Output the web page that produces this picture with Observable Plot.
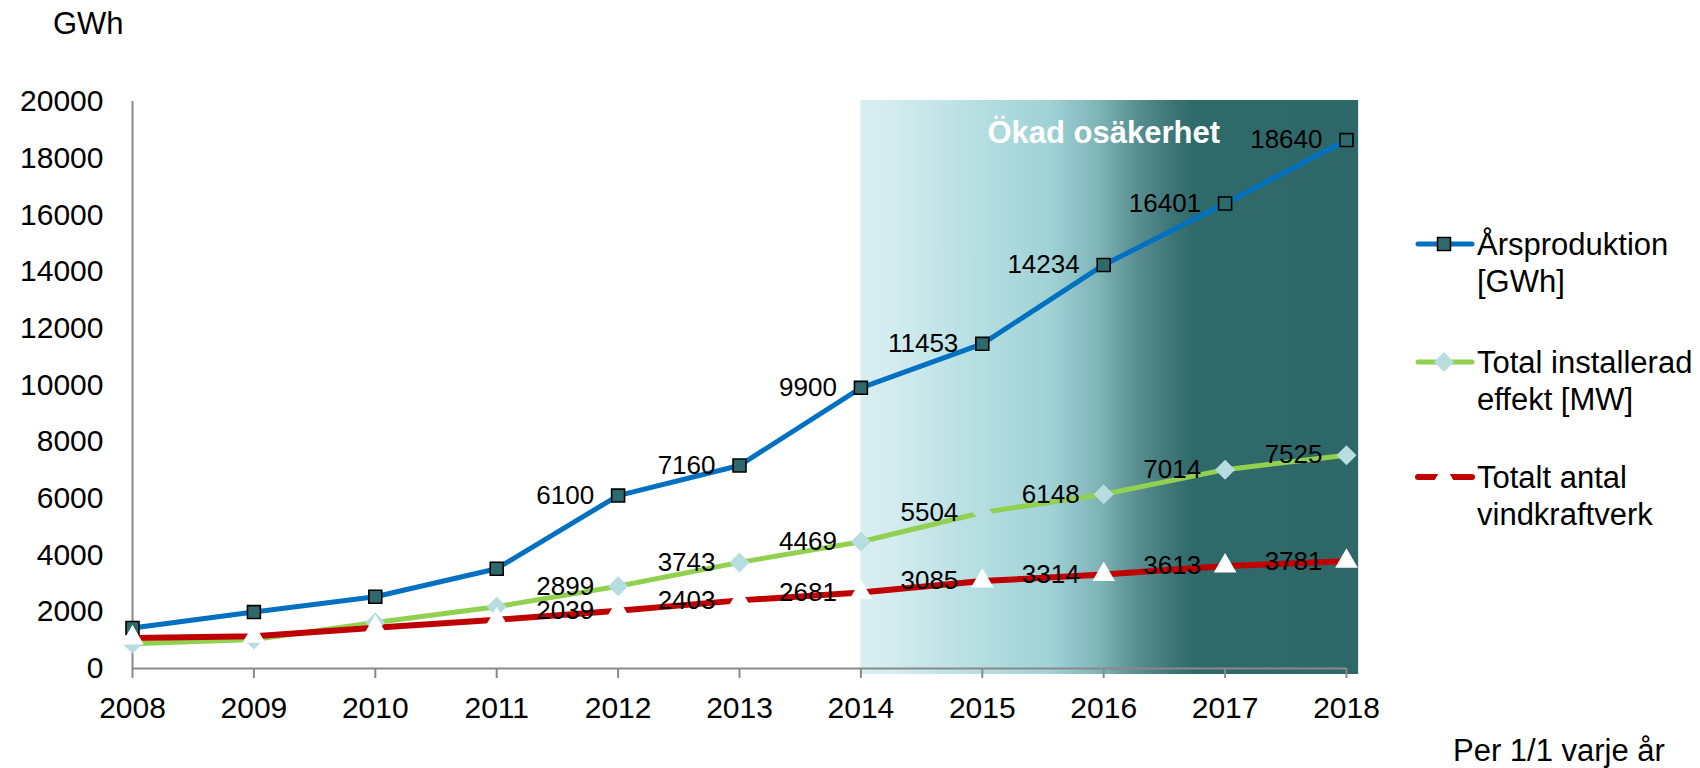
<!DOCTYPE html>
<html><head><meta charset="utf-8">
<script src="https://cdn.jsdelivr.net/npm/d3@7"></script>
<script src="https://cdn.jsdelivr.net/npm/@observablehq/plot@0.6"></script>
<style>
body{margin:0;background:#fff;font-family:"Liberation Sans",Arial,sans-serif;}
#wrap{position:relative;width:1700px;height:768px;overflow:hidden;}
.abs{position:absolute;white-space:nowrap;font-size:31px;line-height:37px;color:#000;}
</style></head><body><div id="wrap"></div>
<script>
const years = [2008, 2009, 2010, 2011, 2012, 2013, 2014, 2015, 2016, 2017, 2018];
const production = [1430, 1990, 2530, 3520, 6100, 7160, 9900, 11453, 14234, 16401, 18640];
const capacity = [870, 1020, 1620, 2180, 2899, 3743, 4469, 5504, 6148, 7014, 7525];
const turbines = [1080, 1140, 1440, 1720, 2039, 2403, 2681, 3085, 3314, 3613, 3781];
const labelFrom = 2012;
const yTicks = [0, 2000, 4000, 6000, 8000, 10000, 12000, 14000, 16000, 18000, 20000];
const shade = {start: 2014, end: 2018.1, text: "Ökad osäkerhet", textX: 2016, textY: 18900};
const legendNames = [["Årsproduktion", "[GWh]"], ["Total installerad", "effekt [MW]"], ["Totalt antal", "vindkraftverk"]];
const yTitle = "GWh";
const xNote = "Per 1/1 varje år";

const series = [
  {key: "prod", values: production, color: "#0070c0", width: 5, symbol: "square", fill: "#2e6a6b", stroke: "#000", r: 7.3},
  {key: "cap", values: capacity, color: "#92d050", width: 5, symbol: "diamond2", fill: "#b7dde1", stroke: "none", r: 9},
  {key: "turb", values: turbines, color: "#c00000", width: 6, symbol: "triangle", fill: "#ffffff", stroke: "none", r: 8.4}
];
const rows = series.flatMap(s => years.map((yr, i) => ({year: yr, value: s.values[i], key: s.key})));

const marks = [
  Plot.rect([shade], {x1: "start", x2: "end", fill: "url(#shade)", insetTop: -1, insetBottom: -6}),
  Plot.ruleY([0], {stroke: "#898989", strokeWidth: 2}),
  Plot.ruleX([years[0]], {stroke: "#898989", strokeWidth: 2}),
  Plot.axisX({ticks: years, tickFormat: "d", tickSize: 10, tickPadding: 18, fontSize: 30, stroke: "#898989", strokeWidth: 2, color: "#000", label: null}),
  Plot.axisY({ticks: yTicks, tickFormat: "d", tickSize: 0, tickPadding: 29, fontSize: 30, color: "#000", label: null})
];
for (const s of series) {
  marks.push(Plot.line(rows.filter(d => d.key === s.key), {x: "year", y: "value", stroke: s.color, strokeWidth: s.width, strokeLinejoin: "round"}));
}
for (const s of series) {
  marks.push(Plot.dot(rows.filter(d => d.key === s.key), {x: "year", y: "value", symbol: () => s.symbol, r: s.r, fill: s.fill, stroke: s.stroke, strokeWidth: 1.6}));
}
marks.push(Plot.text(rows.filter(d => d.year >= labelFrom), {x: "year", y: "value", text: d => String(d.value), textAnchor: "end", dx: -24, fontSize: 26, fill: "#000"}));
marks.push(Plot.text([shade], {x: "textX", y: "textY", text: "text", fontSize: 31, fontWeight: "bold", fill: "#fff"}));

const chart = Plot.plot({
  width: 1700, height: 768,
  marginLeft: 132, marginRight: 354, marginTop: 101, marginBottom: 100,
  x: {domain: [2008, 2018]},
  y: {domain: [0, 20000]},
  symbol: {type: "identity"},
  style: {fontFamily: '"Liberation Sans", Arial, sans-serif', background: "#fff", overflow: "visible"},
  marks
});

const stops = [[0, "#d8eff1"], [0.05, "#d5edf0"], [0.25, "#b3dde0"], [0.38, "#a0d2d6"], [0.48, "#7fb4b7"], [0.55, "#5b9193"], [0.62, "#407778"], [0.67, "#2f6a6b"], [1, "#2e6768"]];
const grad = d3.select(chart).insert("defs", ":first-child").append("linearGradient")
  .attr("id", "shade").attr("x1", 0).attr("x2", 1).attr("y1", 0).attr("y2", 0);
for (const [o, c] of stops) grad.append("stop").attr("offset", o).attr("stop-color", c);

const wrap = document.getElementById("wrap");
wrap.appendChild(chart);

function addText(txt, left, top) {
  const d = document.createElement("div");
  d.className = "abs"; d.textContent = txt;
  d.style.left = left + "px"; d.style.top = top + "px";
  wrap.appendChild(d);
}
addText(yTitle, 53, 5);
addText(xNote, 1453, 732);

const legendCenters = [244, 362, 477];
series.forEach((s, i) => {
  const cy = legendCenters[i];
  const sw = d3.create("svg").attr("width", 60).attr("height", 30)
    .style("position", "absolute").style("left", "1415px").style("top", (cy - 15) + "px");
  sw.append("line").attr("x1", 3).attr("x2", 57).attr("y1", 15).attr("y2", 15)
    .attr("stroke", s.color).attr("stroke-width", s.width).attr("stroke-linecap", "round");
  const sym = {square: d3.symbolSquare, diamond2: d3.symbolDiamond2, triangle: d3.symbolTriangle}[s.symbol];
  sw.append("path").attr("transform", "translate(29,15)")
    .attr("d", d3.symbol(sym, Math.PI * s.r * s.r)())
    .attr("fill", s.fill).attr("stroke", s.stroke).attr("stroke-width", 1.6);
  wrap.appendChild(sw.node());
  const d = document.createElement("div");
  d.className = "abs";
  d.innerHTML = legendNames[i].join("<br>");
  d.style.left = "1477px"; d.style.top = (cy - 18) + "px";
  wrap.appendChild(d);
});
</script></body></html>
